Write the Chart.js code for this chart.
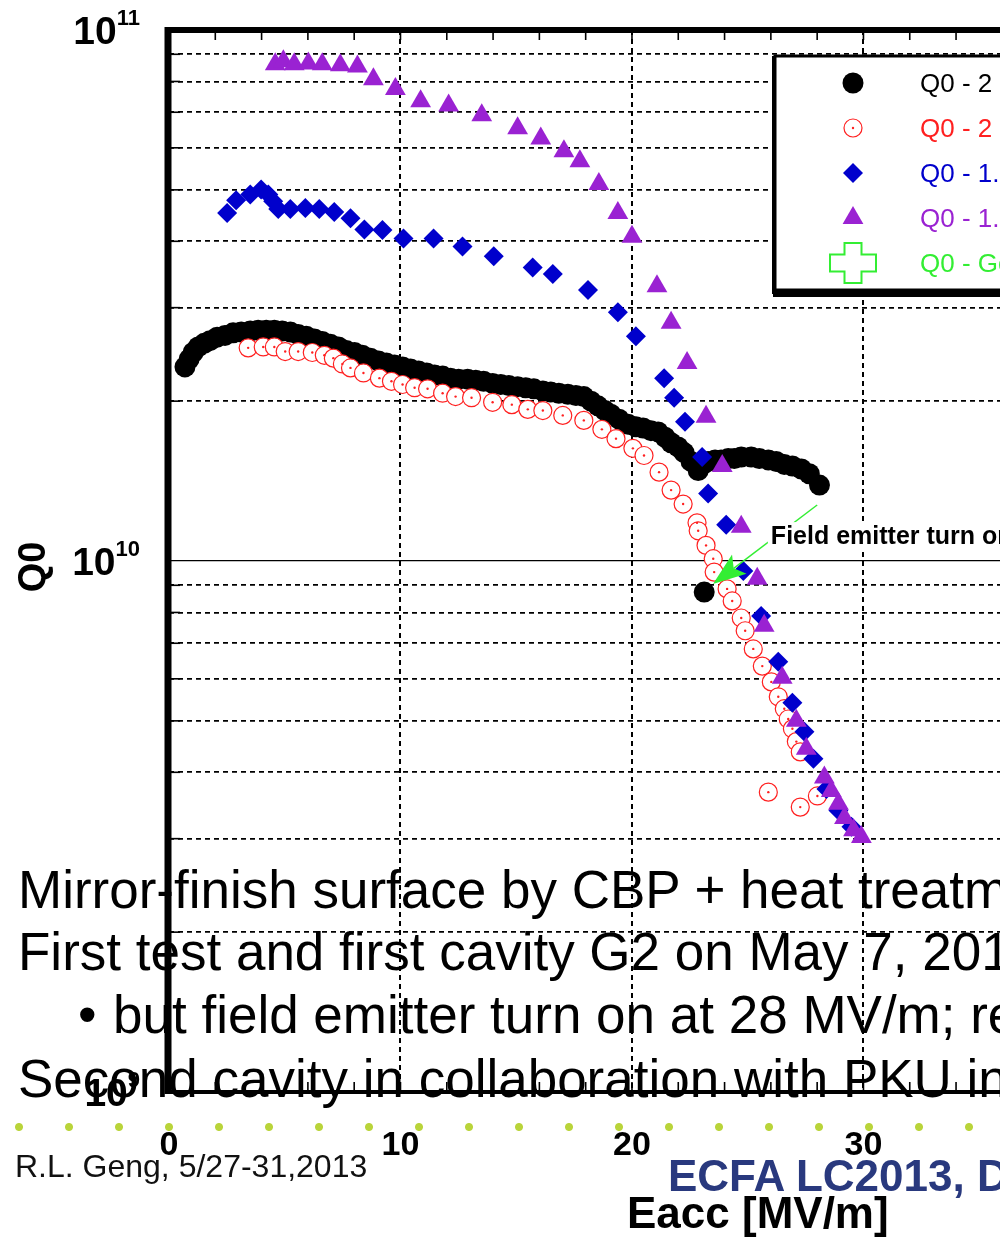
<!DOCTYPE html>
<html>
<head>
<meta charset="utf-8">
<script src="https://cdn.jsdelivr.net/npm/chart.js@4.4.0/dist/chart.umd.min.js"></script>
<style>
  html, body { margin: 0; padding: 0; background: #fff; }
  body { width: 1000px; height: 1237px; overflow: hidden; position: relative;
         font-family: 'Liberation Sans', Arial, Helvetica, sans-serif; }
  #wrap { position: absolute; left: 0; top: 0; width: 1100px; height: 1237px; }
  .slide { position: absolute; font-size: 53px; line-height: 53px; white-space: nowrap; color: #000; }
  .dots { position: absolute; left: 0; top: 1122px; width: 1000px; height: 10px;
          background-image: radial-gradient(circle, #b9d43a 3.5px, rgba(255,255,255,0) 4.5px);
          background-size: 50px 10px; background-position: -6px 0; }
  .foot { position: absolute; white-space: nowrap; }
</style>
</head>
<body>
<div id="wrap"><canvas id="q0Chart" width="1100" height="1237"></canvas></div>

<div class="slide" style="left:18px; top:863px;">Mirror-finish surface by CBP + heat treatment</div>
<div class="slide" style="left:18px; top:925px;">First test and first cavity G2 on May 7, 2013</div>
<div class="slide" style="left:78px; top:988px;">•</div>
<div class="slide" style="left:113px; top:988px;">but field emitter turn on at 28 MV/m; re</div>
<div class="slide" style="left:18px; top:1052px;">Second cavity in collaboration with PKU in</div>
<div class="dots"></div>
<div class="foot" style="left:15px; top:1150px; font-size:32px; line-height:32px; color:#111;">R.L. Geng, 5/27-31,2013</div>
<div class="foot" style="left:668px; top:1154px; font-size:44px; line-height:44px; font-weight:bold; color:#29397e;">ECFA LC2013, DESY</div>

<script>
// Eacc in MV/m, Q0 in units of 1e10
const Q_UNIT = 1e10;

const eaccBlack = [0.69, 0.87, 1.04, 1.26, 1.52, 1.77, 2.08, 2.42, 2.77, 3.12,
  3.51, 3.85, 4.20, 4.55, 4.89, 5.24, 5.58, 5.93, 6.28, 6.62,
  6.97, 7.32, 7.66, 8.01, 8.35, 8.70, 9.05, 9.39, 9.74, 10.09,
  10.43, 10.78, 11.13, 11.47, 11.82, 12.16, 12.51, 12.90, 13.25, 13.59,
  13.98, 14.33, 14.68, 15.06, 15.41, 15.76, 16.15, 16.49, 16.84, 17.23,
  17.58, 17.92, 18.23, 18.53, 18.83, 19.09, 19.44, 19.83, 20.17, 20.48,
  20.82, 21.13, 21.43, 21.69, 21.99, 22.25, 22.55, 22.86, 23.07, 23.29,
  23.59, 23.85, 24.16, 24.42, 24.72, 25.15, 25.50, 25.89, 26.23, 26.58,
  26.93, 27.32, 27.66, 28.10, 23.12];
const q0Black = [2.32, 2.40, 2.47, 2.53, 2.57, 2.60, 2.64, 2.66, 2.69, 2.70,
  2.71, 2.72, 2.72, 2.72, 2.71, 2.70, 2.67, 2.65, 2.62, 2.59,
  2.56, 2.53, 2.49, 2.47, 2.44, 2.41, 2.38, 2.36, 2.34, 2.32,
  2.30, 2.28, 2.26, 2.24, 2.23, 2.21, 2.20, 2.20, 2.19, 2.18,
  2.16, 2.15, 2.14, 2.13, 2.12, 2.11, 2.09, 2.08, 2.07, 2.06,
  2.05, 2.04, 2.00, 1.96, 1.92, 1.89, 1.85, 1.81, 1.79, 1.78,
  1.76, 1.75, 1.71, 1.67, 1.64, 1.60, 1.54, 1.48, 1.52, 1.54,
  1.55, 1.55, 1.56, 1.56, 1.57, 1.57, 1.56, 1.55, 1.54, 1.52,
  1.51, 1.49, 1.46, 1.39, 0.874];

const eaccRed = [3.42, 4.07, 4.55, 5.02, 5.58, 6.19, 6.71, 7.10, 7.49, 7.84,
  8.40, 9.09, 9.61, 10.09, 10.61, 11.17, 11.82, 12.38, 13.07, 13.98,
  14.81, 15.50, 16.15, 17.01, 17.92, 18.70, 19.31, 20.04, 20.52, 21.17,
  21.69, 22.21, 22.81, 22.86, 23.20, 23.51, 23.55, 24.11, 24.33, 24.72,
  24.89, 25.24, 25.63, 26.02, 26.32, 26.58, 26.75, 26.93, 27.10, 27.27,
  25.89, 28.01, 27.27];
const q0Red = [2.52, 2.53, 2.53, 2.48, 2.48, 2.47, 2.44, 2.41, 2.35, 2.31,
  2.26, 2.21, 2.18, 2.15, 2.12, 2.11, 2.07, 2.04, 2.03, 1.99,
  1.97, 1.93, 1.92, 1.88, 1.84, 1.77, 1.70, 1.63, 1.58, 1.47,
  1.36, 1.28, 1.18, 1.14, 1.07, 1.01, 0.953, 0.886, 0.841, 0.781,
  0.739, 0.683, 0.634, 0.592, 0.555, 0.527, 0.504, 0.483, 0.457, 0.437,
  0.367, 0.361, 0.344];

const eaccBlue = [2.51, 2.90, 3.51, 3.98, 4.29, 4.50, 4.72, 5.24, 5.89, 6.49,
  7.14, 7.84, 8.44, 9.22, 10.13, 11.43, 12.68, 14.03, 15.71, 16.58,
  18.10, 19.39, 20.17, 21.39, 21.82, 22.29, 23.03, 23.29, 24.07, 24.81,
  25.58, 26.32, 26.93, 27.45, 27.84, 28.40, 28.92, 29.48];
const q0Blue = [4.52, 4.78, 4.90, 5.01, 4.90, 4.76, 4.60, 4.60, 4.62, 4.60,
  4.54, 4.42, 4.21, 4.20, 4.05, 4.05, 3.91, 3.75, 3.57, 3.47,
  3.24, 2.94, 2.65, 2.21, 2.03, 1.83, 1.57, 1.34, 1.17, 0.958,
  0.788, 0.646, 0.541, 0.477, 0.424, 0.372, 0.339, 0.316];

const eaccPurple = [4.59, 4.94, 5.41, 6.02, 6.62, 7.40, 8.14, 8.83, 9.78, 10.87,
  12.08, 13.51, 15.06, 16.06, 17.06, 17.75, 18.57, 19.39, 20.00, 21.08,
  21.69, 22.38, 23.20, 23.90, 24.72, 25.41, 25.71, 26.49, 27.10, 27.53,
  28.31, 28.61, 28.92, 29.18, 29.57, 29.91];
const q0Purple = [8.62, 8.73, 8.62, 8.65, 8.62, 8.58, 8.54, 8.08, 7.74, 7.34,
  7.21, 6.91, 6.53, 6.25, 5.91, 5.66, 5.13, 4.52, 4.08, 3.29,
  2.81, 2.36, 1.87, 1.51, 1.16, 0.926, 0.755, 0.603, 0.500, 0.443,
  0.391, 0.369, 0.349, 0.328, 0.311, 0.302];

// goal marker only appears in the legend
const eaccGoal = [];
const q0Goal = [];

const seriesLabels = ['Q0 - 2 K', 'Q0 - 2 K', 'Q0 - 1.8 K', 'Q0 - 1.5 K', 'Q0 - Goal'];
const seriesColors = ['#000000', '#ff2020', '#0000cc', '#9a22d2', '#33ee33'];

const xTickValues = [0, 10, 20, 30];
const xTickLabels = ['0', '10', '20', '30'];
const xMinorValues = [0, 2, 4, 6, 8, 10, 12, 14, 16, 18, 20, 22, 24, 26, 28, 30, 32, 34, 36, 38];
const yDecades = [9, 10, 11];
const yMultipliers = [1, 2, 3, 4, 5, 6, 7, 8, 9];

// annotation: arrow from (28.0, 1.275e10) to (23.5, 0.905e10)
const noteText = 'Field emitter turn on';
const noteArrowFrom = [28.0, 1.275];
const noteArrowTo = [23.5, 0.905];
const noteTextAt = [26.0, 1.076];

function points(xs, ys) {
  return xs.map((x, i) => ({ x: x, y: ys[i] * Q_UNIT }));
}

const yGridValues = [];
yDecades.forEach(d => {
  yMultipliers.forEach(m => {
    if (d < 11 || m === 1) yGridValues.push(m * Math.pow(10, d));
  });
});

function isDecade(v) {
  const l = Math.log10(v);
  return Math.abs(l - Math.round(l)) < 1e-9;
}

const FONT = "'Liberation Sans', Arial, Helvetica, sans-serif";

function line(ctx, x1, y1, x2, y2) {
  ctx.beginPath();
  ctx.moveTo(x1, y1);
  ctx.lineTo(x2, y2);
  ctx.stroke();
}

const redDotsPlugin = {
  id: 'redDots',
  afterDatasetDraw(chart, args) {
    if (args.index !== 1) return;
    const ctx = chart.ctx;
    ctx.save();
    ctx.fillStyle = seriesColors[1];
    args.meta.data.forEach(pt => {
      ctx.beginPath();
      ctx.arc(pt.x, pt.y, 1.2, 0, Math.PI * 2);
      ctx.fill();
    });
    ctx.restore();
  }
};

const framePlugin = {
  id: 'frame',
  afterDatasetsDraw(chart) {
    const ctx = chart.ctx;
    const { left, right, top, bottom } = chart.chartArea;
    const xs = chart.scales.x, ys = chart.scales.y;
    ctx.save();
    ctx.strokeStyle = '#000';
    ctx.lineWidth = 1.6;
    xMinorValues.forEach(v => {
      const px = xs.getPixelForValue(v);
      line(ctx, px, top, px, top + 10);
      line(ctx, px, bottom, px, bottom - 10);
    });
    yGridValues.forEach(v => {
      if (isDecade(v)) return;
      const py = ys.getPixelForValue(v);
      line(ctx, left, py, left + 11, py);
    });
    ctx.lineWidth = 7;
    line(ctx, left - 1, top - 3, left - 1, bottom + 2);
    ctx.lineWidth = 6;
    line(ctx, left - 4, top, right + 3, top);
    line(ctx, right, top, right, bottom);
    ctx.lineWidth = 4;
    line(ctx, left - 4, bottom, right + 3, bottom);
    ctx.restore();
  }
};

const labelsPlugin = {
  id: 'axisLabels',
  afterDraw(chart) {
    const ctx = chart.ctx;
    const xs = chart.scales.x, ys = chart.scales.y;
    const { left, bottom } = chart.chartArea;
    ctx.save();
    ctx.fillStyle = '#000';
    // y decade labels, 10 with superscript exponent
    yDecades.forEach(d => {
      const py = ys.getPixelForValue(Math.pow(10, d));
      const rightEdge = left - 29;
      ctx.font = 'bold 22px ' + FONT;
      ctx.textAlign = 'right';
      ctx.textBaseline = 'alphabetic';
      const exp = String(d);
      const ew = ctx.measureText(exp).width;
      ctx.fillText(exp, rightEdge, py - 5);
      ctx.font = 'bold 39px ' + FONT;
      ctx.fillText('10', rightEdge - ew, py + 14);
    });
    // x tick labels
    ctx.font = 'bold 34px ' + FONT;
    ctx.textAlign = 'center';
    xTickValues.forEach((v, i) => {
      ctx.fillText(xTickLabels[i], xs.getPixelForValue(v), bottom + 63);
    });
    // axis titles
    ctx.font = 'bold 44px ' + FONT;
    ctx.textAlign = 'left';
    ctx.fillText('Eacc [MV/m]', 627, bottom + 136);
    ctx.save();
    ctx.translate(45, ys.getPixelForValue(Q_UNIT) + 6);
    ctx.rotate(-Math.PI / 2);
    ctx.textAlign = 'center';
    ctx.font = 'bold 38px ' + FONT;
    ctx.fillText('Q0', 0, 0);
    ctx.restore();
    ctx.restore();
  }
};

const notePlugin = {
  id: 'note',
  afterDraw(chart) {
    const ctx = chart.ctx;
    const xs = chart.scales.x, ys = chart.scales.y;
    const x1 = xs.getPixelForValue(noteArrowFrom[0]), y1 = ys.getPixelForValue(noteArrowFrom[1] * Q_UNIT);
    const x2 = xs.getPixelForValue(noteArrowTo[0]), y2 = ys.getPixelForValue(noteArrowTo[1] * Q_UNIT);
    const len = Math.hypot(x2 - x1, y2 - y1);
    const ux = (x2 - x1) / len, uy = (y2 - y1) / len;
    const nx = -uy, ny = ux;
    const L = 33, W = 12, N = 7;
    ctx.save();
    ctx.strokeStyle = '#33ee33';
    ctx.fillStyle = '#33ee33';
    ctx.lineWidth = 1.5;
    line(ctx, x1, y1, x2 - ux * (L - N), y2 - uy * (L - N));
    ctx.beginPath();
    ctx.moveTo(x2, y2);
    ctx.lineTo(x2 - ux * L + nx * W, y2 - uy * L + ny * W);
    ctx.lineTo(x2 - ux * (L - N), y2 - uy * (L - N));
    ctx.lineTo(x2 - ux * L - nx * W, y2 - uy * L - ny * W);
    ctx.closePath();
    ctx.fill();
    // text with white backing
    const tx = xs.getPixelForValue(noteTextAt[0]);
    const ty = ys.getPixelForValue(noteTextAt[1] * Q_UNIT);
    ctx.font = 'bold 25px ' + FONT;
    const tw = ctx.measureText(noteText).width;
    ctx.fillStyle = '#fff';
    ctx.fillRect(tx - 3, ty - 22, tw + 6, 27);
    ctx.fillStyle = '#000';
    ctx.textAlign = 'left';
    ctx.textBaseline = 'alphabetic';
    ctx.fillText(noteText, tx, ty);
    ctx.restore();
  }
};

const legendPlugin = {
  id: 'boxLegend',
  afterDraw(chart) {
    const ctx = chart.ctx;
    const bx = 775, by = 56, bw = 318, bh = 234;
    ctx.save();
    ctx.fillStyle = '#000';
    ctx.fillRect(bx - 2, by + bh, bw + 4, 7);
    ctx.fillStyle = '#fff';
    ctx.fillRect(bx, by, bw, bh);
    ctx.strokeStyle = '#000';
    ctx.lineWidth = 3;
    ctx.strokeRect(bx, by, bw, bh);
    ctx.lineWidth = 4;
    line(ctx, bx - 1, by, bx - 1, by + bh + 4);
    chart.data.datasets.forEach((ds, i) => {
      const cy = 83 + i * 45;
      const mx = 853;
      ctx.save();
      if (ds.legendCross) {
        const a = 23, b = 8.5, h = 20;
        ctx.strokeStyle = ds.borderColor;
        ctx.lineWidth = 2;
        ctx.beginPath();
        ctx.moveTo(mx - b, cy - h);
        ctx.lineTo(mx + b, cy - h);
        ctx.lineTo(mx + b, cy - b);
        ctx.lineTo(mx + a, cy - b);
        ctx.lineTo(mx + a, cy + b);
        ctx.lineTo(mx + b, cy + b);
        ctx.lineTo(mx + b, cy + h);
        ctx.lineTo(mx - b, cy + h);
        ctx.lineTo(mx - b, cy + b);
        ctx.lineTo(mx - a, cy + b);
        ctx.lineTo(mx - a, cy - b);
        ctx.lineTo(mx - b, cy - b);
        ctx.closePath();
        ctx.stroke();
      } else {
        ctx.fillStyle = ds.backgroundColor;
        ctx.strokeStyle = ds.borderColor;
        ctx.lineWidth = ds.borderWidth;
        Chart.helpers.drawPoint(ctx, {
          pointStyle: ds.pointStyle, radius: ds.pointRadius, rotation: 0, borderWidth: ds.borderWidth
        }, mx, cy);
        if (i === 1) {
          ctx.fillStyle = ds.borderColor;
          ctx.beginPath();
          ctx.arc(mx, cy, 1.2, 0, Math.PI * 2);
          ctx.fill();
        }
      }
      ctx.fillStyle = seriesColors[i];
      ctx.font = '26px ' + FONT;
      ctx.textAlign = 'left';
      ctx.textBaseline = 'middle';
      ctx.fillText(ds.label, 920, cy + 2);
      ctx.restore();
    });
    ctx.restore();
  }
};

const ctx = document.getElementById('q0Chart').getContext('2d');
new Chart(ctx, {
  type: 'scatter',
  data: {
    datasets: [
      {
        label: seriesLabels[0], data: points(eaccBlack, q0Black), order: 4,
        pointStyle: 'circle', pointRadius: 10.5, borderWidth: 0,
        backgroundColor: seriesColors[0], borderColor: seriesColors[0]
      },
      {
        label: seriesLabels[1], data: points(eaccRed, q0Red), order: 3,
        pointStyle: 'circle', pointRadius: 9, borderWidth: 1.2,
        backgroundColor: '#ffffff', borderColor: seriesColors[1]
      },
      {
        label: seriesLabels[2], data: points(eaccBlue, q0Blue), order: 2,
        pointStyle: 'rectRot', pointRadius: 10, borderWidth: 0,
        backgroundColor: seriesColors[2], borderColor: seriesColors[2]
      },
      {
        label: seriesLabels[3], data: points(eaccPurple, q0Purple), order: 1,
        pointStyle: 'triangle', pointRadius: 12, borderWidth: 0,
        backgroundColor: seriesColors[3], borderColor: seriesColors[3]
      },
      {
        label: seriesLabels[4], data: points(eaccGoal, q0Goal), order: 0,
        legendCross: true, pointStyle: 'crossRot', pointRadius: 20, borderWidth: 2,
        backgroundColor: 'rgba(0,0,0,0)', borderColor: seriesColors[4]
      }
    ]
  },
  options: {
    responsive: false,
    animation: false,
    events: [],
    layout: { padding: { left: 169, top: 30, right: 0, bottom: 145 } },
    plugins: {
      legend: { display: false },
      tooltip: { enabled: false }
    },
    scales: {
      x: {
        type: 'linear', min: 0, max: 39.7,
        afterBuildTicks: s => { s.ticks = xMinorValues.map(v => ({ value: v })); },
        afterFit: s => { s.height = 0; },
        ticks: { display: false },
        grid: {
          drawTicks: false,
          lineWidth: 2,
          color: c => (xTickValues.includes(c.tick.value) && c.tick.value > 0) ? '#000' : 'rgba(0,0,0,0)'
        },
        border: { display: false, dash: [5, 4] }
      },
      y: {
        type: 'logarithmic', min: 1e9, max: 1e11,
        afterBuildTicks: s => { s.ticks = yGridValues.map(v => ({ value: v })); },
        afterFit: s => { s.width = 0; },
        ticks: { display: false },
        grid: {
          drawTicks: false,
          lineWidth: c => isDecade(c.tick.value) ? 1.3 : 1.8,
          color: c => (c.tick.value <= 1e9 * 1.0001 || c.tick.value >= 1e11 * 0.9999) ? 'rgba(0,0,0,0)' : '#000'
        },
        border: { display: false, dash: c => (c.tick && isDecade(c.tick.value)) ? [] : [5, 4] }
      }
    }
  },
  plugins: [redDotsPlugin, framePlugin, labelsPlugin, notePlugin, legendPlugin]
});
</script>
</body>
</html>
